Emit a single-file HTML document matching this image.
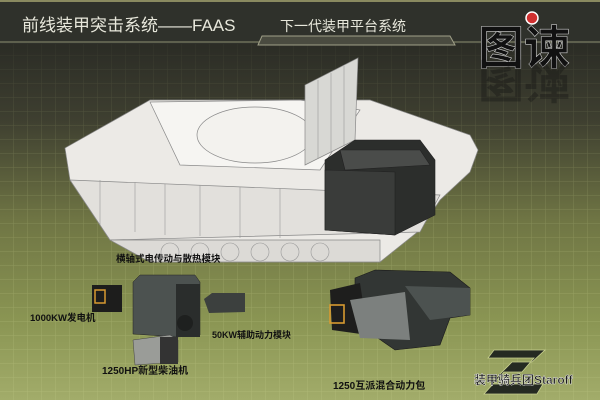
<!DOCTYPE html>
<html><head><meta charset="utf-8"><style>
html,body{margin:0;padding:0;width:600px;height:400px;overflow:hidden;background:#3a3b30}
svg{display:block}
text{font-family:"Liberation Sans","Noto Sans CJK SC",sans-serif}
</style></head><body>
<svg width="600" height="400" viewBox="0 0 600 400">
<defs>
<linearGradient id="bg" x1="0" y1="0" x2="0" y2="1">
<stop offset="0" stop-color="#26282a"/>
<stop offset="0.12" stop-color="#2c2d26"/>
<stop offset="0.3" stop-color="#3e3f30"/>
<stop offset="0.55" stop-color="#6f7544"/>
<stop offset="0.8" stop-color="#8a9553"/>
<stop offset="1" stop-color="#a2ac6a"/>
</linearGradient>
<pattern id="grid" width="14" height="14" patternUnits="userSpaceOnUse">
<path d="M14 0V14M0 14H14" stroke="#c8d090" stroke-opacity="0.35" stroke-width="1" fill="none"/>
</pattern>
<linearGradient id="gm" x1="0" y1="0" x2="0" y2="1">
<stop offset="0" stop-color="#fff" stop-opacity="0"/>
<stop offset="0.4" stop-color="#fff" stop-opacity="0.6"/>
<stop offset="1" stop-color="#fff" stop-opacity="1"/>
</linearGradient>
<mask id="m"><rect width="600" height="400" fill="url(#gm)"/></mask>
</defs>
<rect width="600" height="400" fill="url(#bg)"/>
<rect width="600" height="400" fill="url(#grid)" mask="url(#m)"/>
<rect x="0" y="0" width="600" height="44" fill="#2f312b"/>
<rect x="0" y="0" width="600" height="2" fill="#8a8a60"/>
<line x1="0" y1="42" x2="600" y2="42" stroke="#8d8f72" stroke-width="1"/>
<path d="M262 36 L450 36 L455 45 L258 45 Z" fill="#4a4b40" stroke="#a0a088" stroke-width="1"/>
<text x="22" y="31" font-size="17" fill="#e8e8dc" font-family="Liberation Serif,'Noto Serif CJK SC',serif">前线装甲突击系统——FAAS</text>
<text x="280" y="31" font-size="14" fill="#e8e8dc" font-family="Liberation Serif,'Noto Serif CJK SC',serif">下一代装甲平台系统</text>
<text x="478" y="64" font-size="46" font-weight="bold" fill="#111" stroke="#ccc" stroke-width="0.6">图谏</text>
<text x="478" y="64" font-size="46" font-weight="bold" fill="#111" opacity="0.35" transform="translate(0,128) scale(1,-1)">图谏</text>
<circle cx="532" cy="18" r="6" fill="#d03030" stroke="#fff" stroke-width="1.5"/>
<g fill="#eceae6" stroke="#888" stroke-width="0.7">
<path d="M65 148 L150 100 L370 100 L470 135 L478 150 L470 172 L440 200 L420 230 L380 262 L150 262 L110 240 L70 180 Z"/>
<path d="M150 102 L300 100 L360 110 L320 170 L180 165 Z" fill="#f6f5f2"/>
<ellipse cx="255" cy="135" rx="58" ry="28" fill="#f3f2ee"/>
<path d="M305 85 L358 58 L355 140 L305 165 Z" fill="#d8d8d4"/>
<path d="M70 180 L440 195 L420 232 L110 240 Z" fill="#e2e0dc"/>
<path d="M110 240 L380 240 L380 262 L150 262 Z" fill="#dcdad6"/>
</g>
<g fill="none" stroke="#999" stroke-width="0.6">
<path d="M100 180 L100 225 M135 182 L135 232 M165 184 L165 235 M200 185 L200 236 M240 187 L240 238 M280 188 L280 238"/>
<path d="M318 80 L318 158 M331 73 L331 152 M344 66 L344 146"/>
<circle cx="170" cy="252" r="9"/><circle cx="200" cy="252" r="9"/><circle cx="230" cy="252" r="9"/><circle cx="260" cy="252" r="9"/><circle cx="290" cy="252" r="9"/><circle cx="320" cy="252" r="9"/>
</g>
<g stroke="#222" stroke-width="0.6">
<path d="M325 160 L355 140 L420 140 L435 160 L435 215 L395 235 L325 230 Z" fill="#2c2e2c"/>
<path d="M325 170 L395 172 L395 235 L325 230 Z" fill="#3a3c3a"/>
<path d="M340 150 L420 150 L430 165 L345 170 Z" fill="#4a4c4a"/>
</g>
<text x="116" y="262" font-size="9.5" fill="#111" font-weight="bold">横轴式电传动与散热模块</text>
<rect x="92" y="285" width="30" height="27" fill="#1d1d1c"/>
<rect x="95" y="290" width="10" height="13" fill="none" stroke="#d89a30" stroke-width="1.5"/>
<text x="30" y="321" font-size="9.5" fill="#111" font-weight="bold">1000KW发电机</text>
<path d="M133 282 L140 275 L195 275 L200 282 L200 335 L177 337 L133 334 Z" fill="#4c5250" stroke="#222" stroke-width="0.5"/>
<rect x="176" y="284" width="24" height="53" fill="#2a2d2c"/>
<circle cx="185" cy="323" r="8" fill="#1e201f"/>
<path d="M204 299 L212 293 L245 293 L245 312 L209 313 Z" fill="#3c403e"/>
<text x="212" y="338" font-size="9" fill="#111" font-weight="bold">50KW辅助动力模块</text>
<path d="M133 340 L170 335 L178 340 L178 362 L135 365 Z" fill="#9a9c98" stroke="#444" stroke-width="0.5"/>
<rect x="160" y="337" width="18" height="27" fill="#333"/>
<text x="102" y="374" font-size="10" fill="#111" font-weight="bold">1250HP新型柴油机</text>
<path d="M355 278 L375 270 L450 272 L470 288 L470 315 L450 318 L440 345 L395 350 L355 322 Z" fill="#323634" stroke="#1a1a1a" stroke-width="0.6"/>
<path d="M330 290 L360 283 L368 335 L332 330 Z" fill="#1e1e1d"/>
<rect x="330" y="305" width="14" height="18" fill="none" stroke="#d89a30" stroke-width="1.6"/>
<path d="M350 300 L405 292 L410 340 L360 338 Z" fill="#7c807e"/>
<path d="M405 286 L470 288 L470 315 L430 320 Z" fill="#4c5250"/>
<text x="333" y="389" font-size="10" fill="#111" font-weight="bold">1250互派混合动力包</text>
<path d="M494 350 L545 350 L532 362 L512 362 L490 384 L543 384 L537 394 L484 394 L504 372 L522 372 L534 358 L488 358 Z" fill="#252a22" stroke="#c8d090" stroke-width="0.8"/>
<text x="474" y="384" font-size="12" font-weight="bold" fill="#1a1a1a" stroke="#eee" stroke-width="0.4" font-family="Liberation Serif,'Noto Serif CJK SC',serif">装甲骑兵团Staroff</text>
</svg>
</body></html>
